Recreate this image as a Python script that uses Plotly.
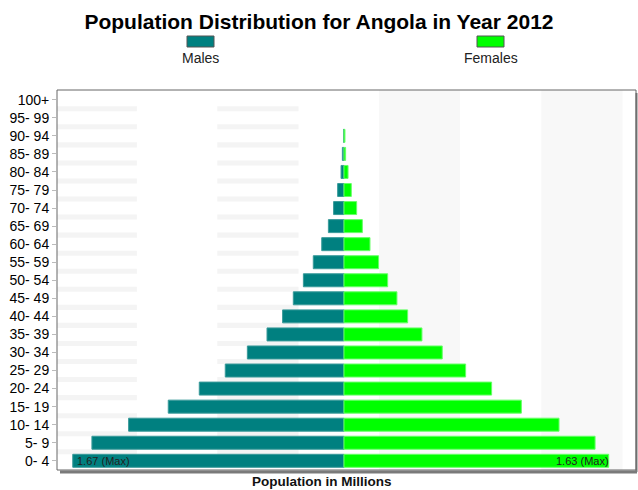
import plotly.graph_objects as go

# ---- data ----
age_groups = ["0- 4", "5- 9", "10- 14", "15- 19", "20- 24", "25- 29", "30- 34",
              "35- 39", "40- 44", "45- 49", "50- 54", "55- 59", "60- 64", "65- 69",
              "70- 74", "75- 79", "80- 84", "85- 89", "90- 94", "95- 99", "100+"]
males = [1.67, 1.552, 1.326, 1.082, 0.891, 0.731, 0.595, 0.474, 0.378, 0.312,
         0.250, 0.189, 0.137, 0.096, 0.064, 0.039, 0.018, 0.010, 0.003, 0.0, 0.0]
females = [1.63, 1.546, 1.324, 1.092, 0.909, 0.749, 0.605, 0.480, 0.392, 0.326,
           0.269, 0.213, 0.160, 0.113, 0.078, 0.045, 0.025, 0.010, 0.006, 0.0, 0.0]

title_text = "Population Distribution for Angola in Year 2012"
x_title = "Population in Millions"

W, H = 638, 490
L, R, T, B = 57, 2, 90, 20
PW, PH = W - L - R, H - T - B

def px(x):
    return (x - L) / PW

def py(y):
    return (H - B - y) / PH

idx = list(range(len(age_groups)))
FONT = "Liberation Sans, Arial, sans-serif"

fig = go.Figure()
fig.add_trace(go.Bar(
    y=idx, x=[-v for v in males], base=0, orientation="h", name="Males",
    marker=dict(color="#008080", line=dict(color="#3a9a9a", width=[1 if v > 0 else 0 for v in males])),
))
fig.add_trace(go.Bar(
    y=idx, x=females, base=0, orientation="h", name="Females",
    marker=dict(color="#00ff00", line=dict(color="#66ff66", width=[1 if v > 0 else 0 for v in females])),
))

shapes = []
# right side full background bands
for x0, x1 in [(0.215, 0.715), (1.215, 1.715)]:
    shapes.append(dict(type="rect", xref="x", yref="y domain", x0=x0, x1=x1, y0=0, y1=1,
                       fillcolor="#f8f8f8", line=dict(width=0), layer="below"))
# left side stripes in gaps between rows
for x0, x1 in [(-1.775, -1.275), (-0.78, -0.28)]:
    for k in range(len(age_groups) - 1):
        shapes.append(dict(type="rect", xref="x", yref="y", x0=x0, x1=x1,
                           y0=k + 0.5 - 0.14, y1=k + 0.5 + 0.14,
                           fillcolor="#f4f4f4", line=dict(width=0), layer="below"))
# shadow
shapes.append(dict(type="line", xref="paper", yref="paper", x0=px(60), x1=px(637),
                   y0=py(472), y1=py(472), line=dict(color="#7a7a7a", width=3)))
shapes.append(dict(type="line", xref="paper", yref="paper", x0=px(636.5), x1=px(636.5),
                   y0=py(93), y1=py(472), line=dict(color="#7a7a7a", width=2)))
# border
shapes.append(dict(type="rect", xref="paper", yref="paper", x0=0, x1=1, y0=0, y1=1,
                   line=dict(color="#666666", width=1)))
# legend boxes
shapes.append(dict(type="rect", xref="paper", yref="paper", x0=px(187), x1=px(214),
                   y0=py(47), y1=py(36), fillcolor="#008080", line=dict(color="#555", width=1)))
shapes.append(dict(type="rect", xref="paper", yref="paper", x0=px(477), x1=px(504),
                   y0=py(47), y1=py(36), fillcolor="#00ff00", line=dict(color="#555", width=1)))

annotations = [
    dict(text="Males", xref="paper", yref="paper", x=px(200.5), y=py(58),
         showarrow=False, xanchor="center", yanchor="middle",
         font=dict(family=FONT, size=14, color="#222")),
    dict(text="Females", xref="paper", yref="paper", x=px(490.5), y=py(58),
         showarrow=False, xanchor="center", yanchor="middle",
         font=dict(family=FONT, size=14, color="#222")),
    dict(text=x_title, xref="paper", yref="paper", x=px(322), y=py(481),
         showarrow=False, xanchor="center", yanchor="middle",
         font=dict(family=FONT, size=13.5, color="#111", weight="bold")),
    dict(text=f"{max(males):.2f} (Max)", xref="x", yref="y", x=-max(males),
         y=males.index(max(males)), showarrow=False, xanchor="left", yanchor="middle",
         xshift=2, font=dict(family=FONT, size=11, color="#222")),
    dict(text=f"{max(females):.2f} (Max)", xref="x", yref="y", x=max(females),
         y=females.index(max(females)), showarrow=False, xanchor="right", yanchor="middle",
         xshift=2, font=dict(family=FONT, size=11, color="#222")),
]

fig.update_layout(
    width=W, height=H,
    margin=dict(l=L, r=R, t=T, b=B),
    paper_bgcolor="white", plot_bgcolor="white",
    barmode="overlay", bargap=0.28, showlegend=False,
    title=dict(text=title_text, x=0.5, xref="container", xanchor="center",
               y=1 - 22 / H, yref="container", yanchor="middle",
               font=dict(family=FONT, size=21, color="#000", weight="bold")),
    shapes=shapes, annotations=annotations,
    font=dict(family=FONT),
)
fig.update_xaxes(range=[-1.767, 1.798], showticklabels=False, showgrid=False,
                 zeroline=False, showline=False, ticks="")
fig.update_yaxes(range=[-0.51, 20.54], tickmode="array", tickvals=idx, ticktext=age_groups,
                 showgrid=False, zeroline=False, showline=False, ticks="outside",
                 ticklen=4, tickcolor="#bbbbbb",
                 tickfont=dict(family=FONT, size=14, color="#000"))

fig.write_html("out.html")
